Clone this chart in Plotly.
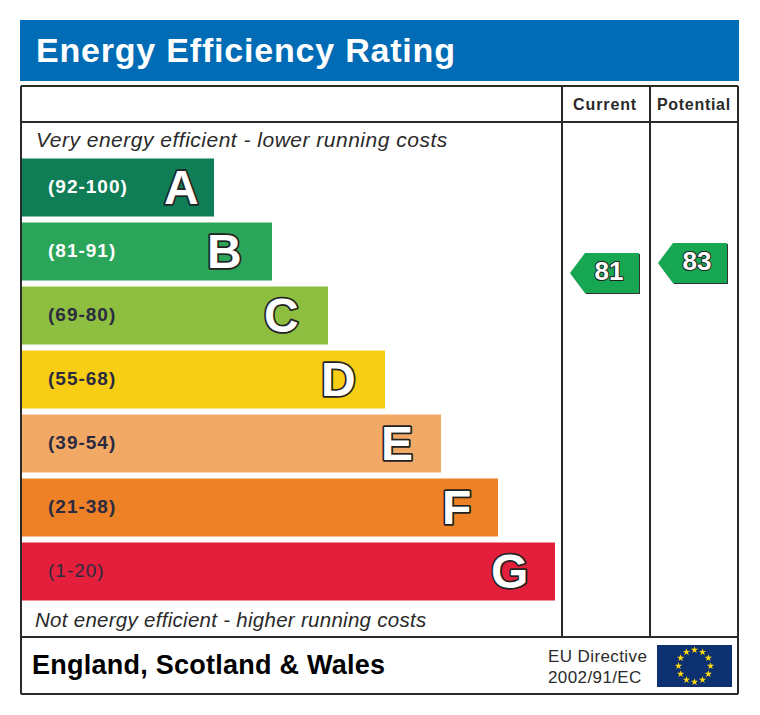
## Energy Efficiency Rating chart

## Imports
import math
import plotly.graph_objects as go


## Data
bands = ["A", "B", "C", "D", "E", "F", "G"]
band_ranges = ["(92-100)", "(81-91)", "(69-80)", "(55-68)", "(39-54)", "(21-38)", "(1-20)"]
band_lengths = [192, 250, 306, 363, 419, 476, 533]
band_colors = ["#0f7d56", "#2ba55a", "#8ebe40", "#f7ce14", "#f3a966", "#ee8026", "#e41f3c"]

rating_columns = ["Current", "Potential"]
rating_values = [81, 83]


## Page geometry helpers
W = 760
H = 715
INK = "#2a2a2a"
FONT = "Liberation Sans"


def px(x):
    return x / W


def py(y):
    return 1 - y / H


def spaced(s, spacing):
    return f'<span style="letter-spacing:{spacing}px">{s}</span>'


def outlined(s, width):
    return f'<span style="stroke:#222;stroke-width:{width}px;paint-order:stroke;stroke-linejoin:round">{s}</span>'


def text(x, y, s, size, color=INK, anchor="left"):
    # annotations pad their text by 2px, so left aligned ones are moved back
    x = x - 2 if anchor == "left" else x
    return dict(xref="paper", yref="paper", x=px(x), y=py(y), text=s, showarrow=False,
                xanchor=anchor, yanchor="middle", font=dict(family=FONT, size=size, color=color))


fig = go.Figure()

## Bars
fig.add_trace(go.Bar(
    x=band_lengths,
    y=bands,
    orientation="h",
    marker=dict(color=band_colors, line=dict(width=0)),
    hoverinfo="skip",
    xaxis="x",
    yaxis="y",
))

## Rating numbers, the pointers behind them are shapes anchored to the same axes
fig.add_trace(go.Scatter(
    x=rating_columns,
    y=rating_values,
    mode="text",
    text=[outlined(f"<b>{v}</b>", 2) for v in rating_values],
    textposition="middle center",
    textfont=dict(family=FONT, size=26, color="white"),
    hoverinfo="skip",
    xaxis="x2",
    yaxis="y2",
))

## Stars of the flag
hours = list(range(12))
fig.add_trace(go.Scatter(
    x=[16 * math.sin(h * math.pi / 6) for h in hours],
    y=[16 * math.cos(h * math.pi / 6) for h in hours],
    mode="markers",
    marker=dict(symbol="star", size=5.5, color="#ffd90f", line=dict(width=0)),
    hoverinfo="skip",
    xaxis="x3",
    yaxis="y3",
))

shapes = []

## Header banner
shapes.append(dict(type="rect", xref="paper", yref="paper", x0=px(20), x1=px(739), y0=py(81), y1=py(20),
                   fillcolor="#006cb5", line=dict(width=0), layer="below"))

## Frame
for x0, y0, x1, y1 in [(21, 86, 738, 86), (21, 694, 738, 694), (21, 122, 738, 122), (21, 637, 738, 637),
                       (21, 86, 21, 694), (738, 86, 738, 694), (562, 86, 562, 637), (650, 86, 650, 637)]:
    shapes.append(dict(type="line", xref="paper", yref="paper", x0=px(x0), x1=px(x1), y0=py(y0), y1=py(y1),
                       line=dict(color=INK, width=2), layer="below"))

## Rating pointers
for i, value in enumerate(rating_values):
    for dx, dy, color in [(1, -1, "#333333"), (0, 0, "#17a652")]:
        path = (f"M {-39 + dx} {dy} L {-24 + dx} {20 + dy} L {30 + dx} {20 + dy} "
                f"L {30 + dx} {-20 + dy} L {-24 + dx} {-20 + dy} Z")
        shapes.append(dict(type="path", path=path, xref="x2", yref="y2", xsizemode="pixel", ysizemode="pixel",
                           xanchor=i, yanchor=value, fillcolor=color, line=dict(width=0), layer="below"))

## Flag background
shapes.append(dict(type="rect", xref="x3 domain", yref="y3 domain", x0=0, x1=1, y0=0, y1=1,
                   fillcolor="#0d3070", line=dict(width=0), layer="below"))

annotations = [
    text(36, 50, spaced("<b>Energy Efficiency Rating</b>", 0.8), 34, "white"),
    text(604.5, 104, spaced("<b>Current</b>", 0.9), 16, anchor="center"),
    text(694, 104, spaced("<b>Potential</b>", 0.7), 16, anchor="center"),
    text(36, 139, spaced("<i>Very energy efficient - lower running costs</i>", 0.5), 21),
    text(35, 619, spaced("<i>Not energy efficient - higher running costs</i>", 0.28), 20.5),
    text(32, 665, spaced("<b>England, Scotland &amp; Wales</b>", 0.25), 27, "black"),
    text(548, 656, spaced("EU Directive", 0.4), 17),
    text(548, 677, spaced("2002/91/EC", 0.4), 17),
]

## Band range labels and letters
range_colors = ["white", "white", "#2b2b40", "#2b2b40", "#2b2b40", "#2b2b40", "#2b2b40"]
letter_gaps = [33, 48, 47, 47, 44, 42, 46]
for i, band in enumerate(bands):
    label = band_ranges[i] if band == "G" else f"<b>{band_ranges[i]}</b>"
    annotations.append(dict(xref="x", yref="y", x=24, y=band, yshift=1, text=spaced(label, 1), showarrow=False,
                            xanchor="left", font=dict(family=FONT, size=19, color=range_colors[i])))
    annotations.append(dict(xref="x", yref="y", x=band_lengths[i], y=band, xshift=-letter_gaps[i],
                            text=outlined(f"<b>{band}</b>", 3.5), showarrow=False, xanchor="center",
                            font=dict(family=FONT, size=48, color="white")))

fig.update_layout(
    width=W,
    height=H,
    autosize=False,
    margin=dict(l=0, r=0, t=0, b=0),
    paper_bgcolor="white",
    plot_bgcolor="rgba(0,0,0,0)",
    showlegend=False,
    bargap=0.094,
    shapes=shapes,
    annotations=annotations,
    xaxis=dict(domain=[px(22), px(555)], range=[0, 533], visible=False, fixedrange=True),
    yaxis=dict(domain=[py(603.5), py(155.5)], type="category", categoryorder="array", categoryarray=bands,
               range=[6.5, -0.5], visible=False, fixedrange=True),
    xaxis2=dict(domain=[px(565), px(741)], range=[-0.5, 1.5], type="category", visible=False, anchor="y2"),
    yaxis2=dict(domain=[py(637), py(122)], range=[8.2, 111.2], visible=False, anchor="x2"),
    xaxis3=dict(domain=[px(657), px(732)], range=[-37.5, 37.5], visible=False, anchor="y3"),
    yaxis3=dict(domain=[py(687), py(645)], range=[-21, 21], visible=False, anchor="x3"),
)

fig.write_html("out.html", config=dict(displayModeBar=False), post_script="document.body.style.margin = '0';")
